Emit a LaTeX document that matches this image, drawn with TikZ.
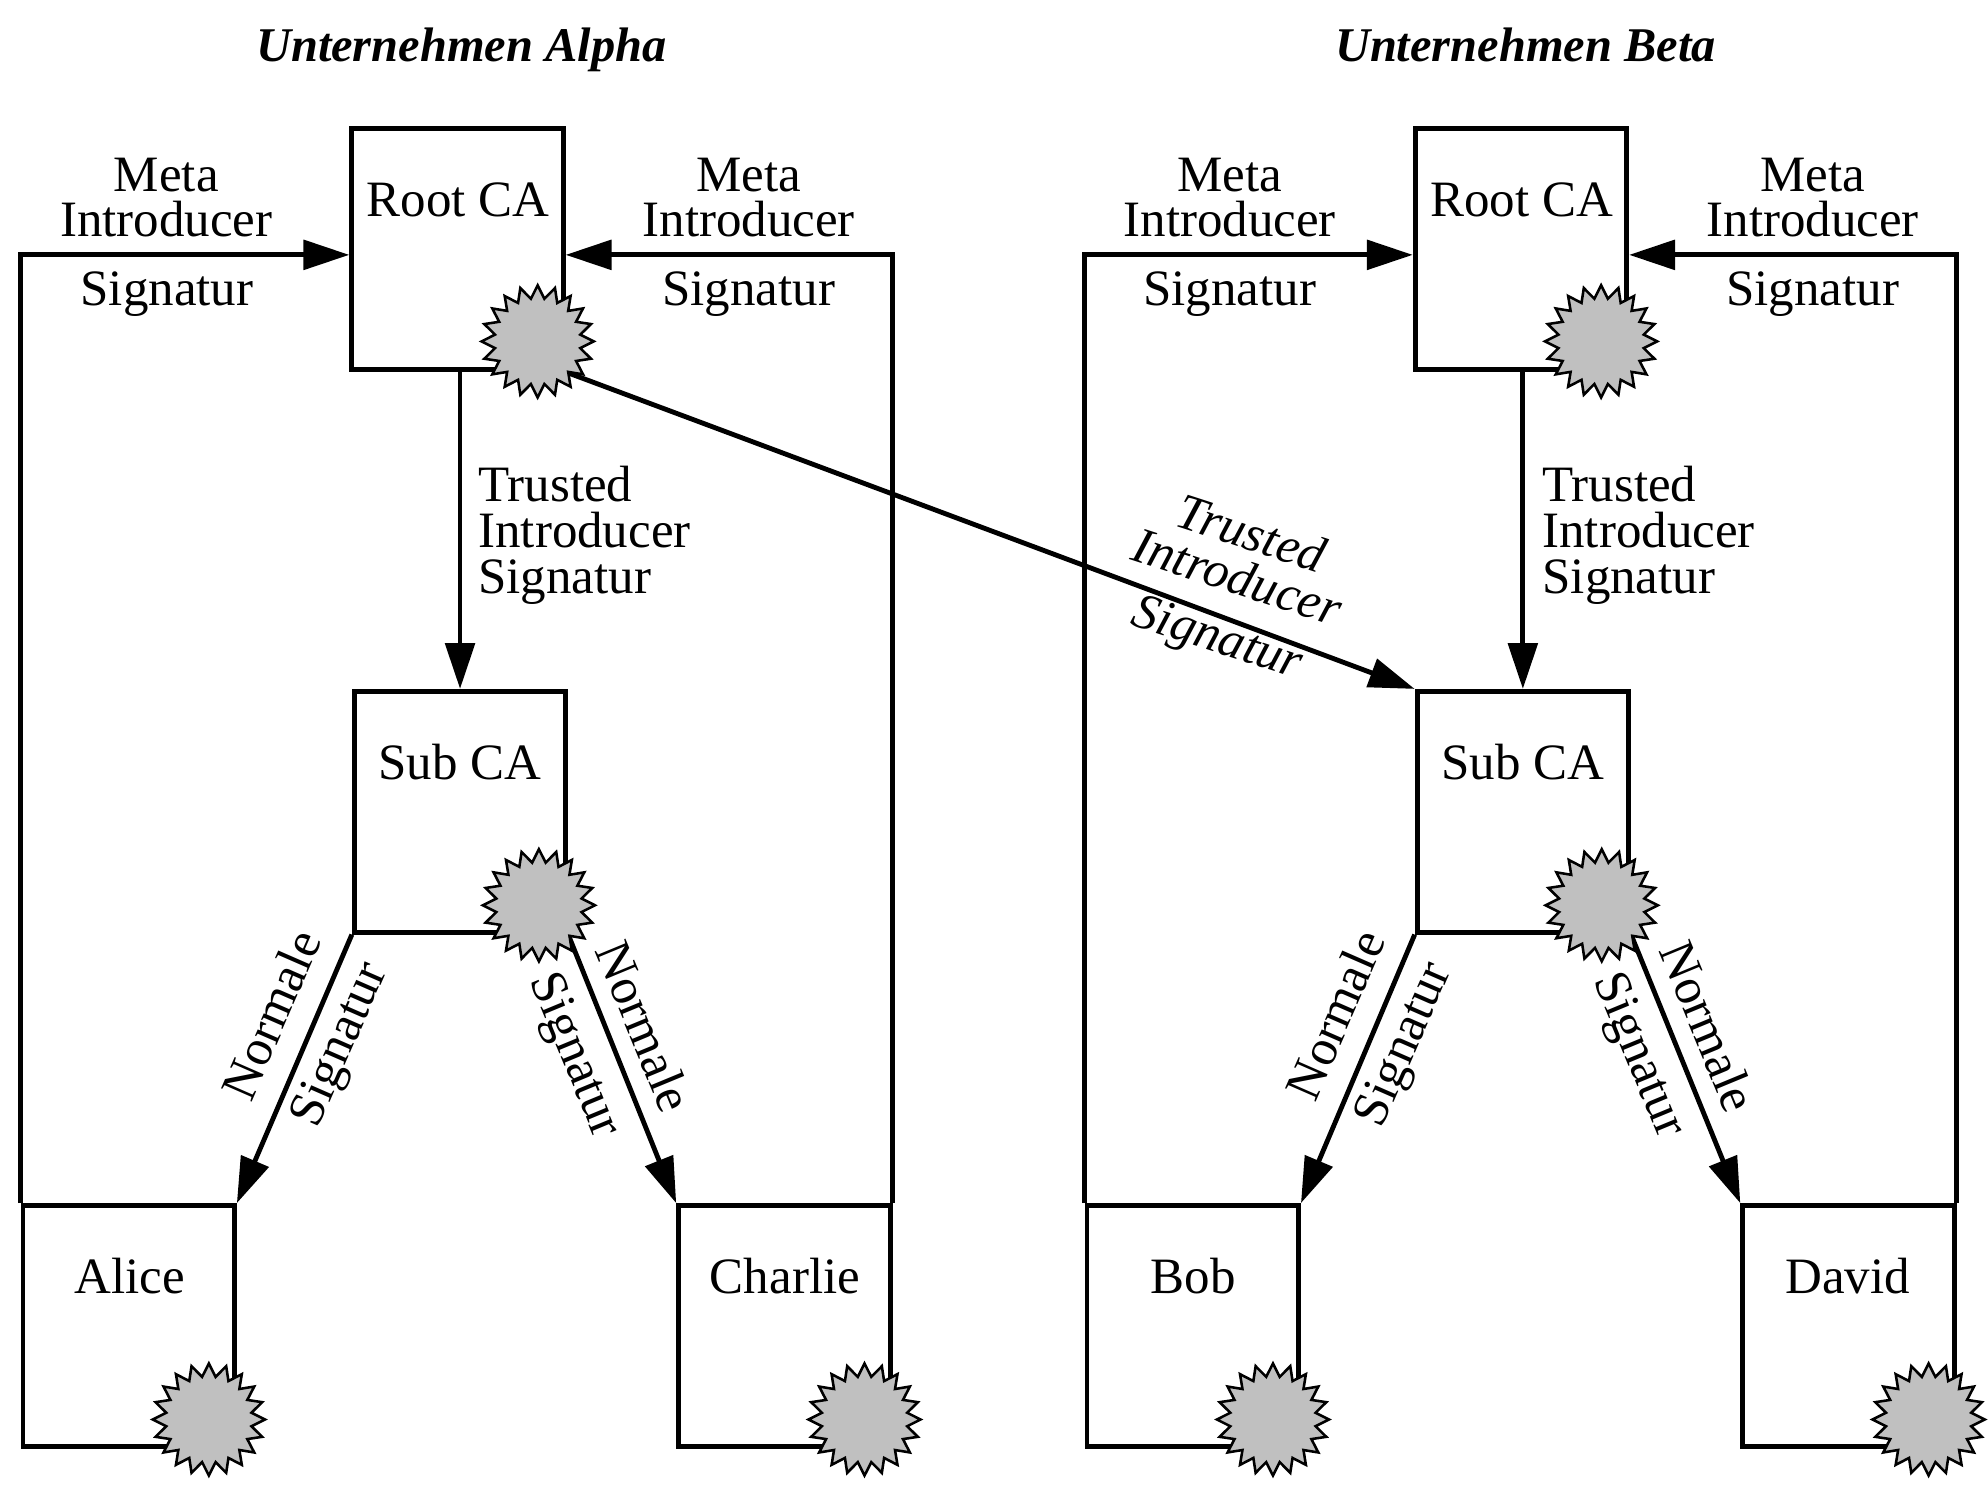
\documentclass[tikz,border=0pt]{standalone}
\usepackage{fontspec}
\setmainfont{Liberation Serif}
\usetikzlibrary{arrows.meta,shapes.geometric,calc}
\definecolor{sealgray}{RGB}{192,192,192}
\begin{document}
\begin{tikzpicture}[x=0.5pt,y=-0.5pt,
  box/.style={draw, line width=1.9pt, inner sep=0pt, minimum width=83pt, minimum height=94.5pt},
  conn/.style={line width=1.9pt},
  arr/.style={conn, -{Triangle[length=18pt,width=11.5pt]}},
  seal/.style={star, star points=20, star point ratio=1.3, draw, line width=1pt, fill=sealgray, minimum size=44pt, inner sep=0pt},
  lbl/.style={font=\fontsize{20}{18}\selectfont, inner sep=0pt},
  ttl/.style={font=\fontsize{19}{22}\selectfont\bfseries\itshape, inner sep=0pt, anchor=base}
]
\useasboundingbox (0,0) rectangle (1560,1165);

% ---------- titles ----------
\node[ttl] (ttlA) at (362,48) {Unternehmen Alpha};
\node[ttl] (ttlB) at (1197,48) {Unternehmen Beta};

% ---------- boxes ----------
\node[box] (rootA) at (359,195.5) {};
\node[box] (subA) at (361,637) {};
\node[box] (alice) at (101,1040.5) {};
\node[box] (charlie) at (615.5,1040.5) {};
\node[box] (rootB) at (1193.5,195.5) {};
\node[box] (subB) at (1195,637) {};
\node[box] (bob) at (936,1040.5) {};
\node[box] (david) at (1450.5,1040.5) {};

% ---------- box texts ----------
\node[lbl, anchor=base] (tRootA) at (359.5,170) {Root CA};
\node[lbl, anchor=base] (tSubA) at (361,612) {Sub CA};
\node[lbl, anchor=base] (tAlice) at (102,1015) {Alice};
\node[lbl, anchor=base] (tCharlie) at (616,1015) {Charlie};
\node[lbl, anchor=base] (tRootB) at (1194,170) {Root CA};
\node[lbl, anchor=base] (tSubB) at (1195,612) {Sub CA};
\node[lbl, anchor=base] (tBob) at (936.5,1015) {Bob};
\node[lbl, anchor=base] (tDavid) at (1450,1015) {David};

% ---------- connectors: Alpha ----------
\draw[arr] (alice.north west) |- ($(rootA.west)+(0,4.5)$);
\draw[arr] (charlie.north east) |- ($(rootA.east)+(0,4.5)$);
\draw[arr] (subA.north |- rootA.south) -- (subA.north);
\draw[arr] (subA.south west) -- (alice.north east);
\draw[arr] (subA.south east) -- (charlie.north west);

% ---------- connectors: Beta ----------
\draw[arr] (bob.north west) |- ($(rootB.west)+(0,4.5)$);
\draw[arr] (david.north east) |- ($(rootB.east)+(0,4.5)$);
\draw[arr] (subB.north |- rootB.south) -- (subB.north);
\draw[arr] (subB.south west) -- (bob.north east);
\draw[arr] (subB.south east) -- (david.north west);

% ---------- cross connector ----------
\draw[arr] (rootA.south east) -- (subB.north west);

% ---------- connector labels: Alpha ----------
\node[lbl, align=center] (mA1) at (130.5,155) {Meta\\Introducer};
\node[lbl, anchor=base] (sA1) at (131,240) {Signatur};
\node[lbl, align=center] (mA2) at (587.5,155) {Meta\\Introducer};
\node[lbl, anchor=base] (sA2) at (587.5,240) {Signatur};
\node[lbl, align=left, anchor=west] (trA) at (375,420) {Trusted\\Introducer\\Signatur};
\node[lbl, align=center, rotate=66.4] (nA1) at (242,809) {Normale\\[10pt]Signatur};
\node[lbl, align=center, rotate=-67.5] (nA2) at (476,817.5) {Normale\\[10pt]Signatur};

% ---------- connector labels: Beta ----------
\node[lbl, align=center] (mB1) at (965,155) {Meta\\Introducer};
\node[lbl, anchor=base] (sB1) at (965,240) {Signatur};
\node[lbl, align=center] (mB2) at (1422.5,155) {Meta\\Introducer};
\node[lbl, anchor=base] (sB2) at (1422.5,240) {Signatur};
\node[lbl, align=left, anchor=west] (trB) at (1210,420) {Trusted\\Introducer\\Signatur};
\node[lbl, align=center, rotate=66.4] (nB1) at (1077,809) {Normale\\[10pt]Signatur};
\node[lbl, align=center, rotate=-67.5] (nB2) at (1311,817.5) {Normale\\[10pt]Signatur};

% ---------- cross label ----------
\node[lbl, align=center, rotate=-18, font=\fontsize{20}{18}\selectfont\itshape] (trX) at (968,462) {Trusted\\Introducer\\[6pt]Signatur};

% ---------- seals ----------
\node[seal] (sealRootA) at ($(rootA.south east)+(-22,-24)$) {};
\node[seal] (sealSubA) at ($(subA.south east)+(-23,-23)$) {};
\node[seal] (sealAlice) at ($(alice.south east)+(-22,-23)$) {};
\node[seal] (sealCharlie) at ($(charlie.south east)+(-22,-23)$) {};
\node[seal] (sealRootB) at ($(rootB.south east)+(-22,-24)$) {};
\node[seal] (sealSubB) at ($(subB.south east)+(-23,-23)$) {};
\node[seal] (sealBob) at ($(bob.south east)+(-22,-23)$) {};
\node[seal] (sealDavid) at ($(david.south east)+(-22,-23)$) {};
\end{tikzpicture}
\end{document}
